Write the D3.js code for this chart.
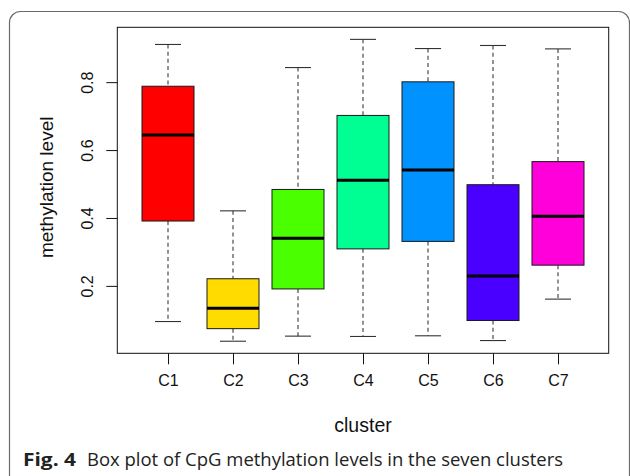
<!DOCTYPE html>
<html>
<head>
<meta charset="utf-8">
<script src="https://cdn.jsdelivr.net/npm/d3@7"></script>
<style>
  html, body { margin: 0; padding: 0; background: #fff; }
  svg { display: block; }
</style>
</head>
<body>
<svg id="chart" width="630" height="476"></svg>
<script>
// Box-plot summaries of CpG methylation level per cluster
const categories   = ["C1", "C2", "C3", "C4", "C5", "C6", "C7"];
const lowerWhisker = [0.095, 0.037, 0.052, 0.051, 0.053, 0.039, 0.161];
const q1           = [0.391, 0.074, 0.191, 0.309, 0.331, 0.098, 0.261];
const median       = [0.644, 0.134, 0.340, 0.511, 0.541, 0.229, 0.405];
const q3           = [0.788, 0.221, 0.484, 0.702, 0.801, 0.498, 0.566];
const upperWhisker = [0.911, 0.421, 0.843, 0.926, 0.899, 0.908, 0.898];
const boxColors    = ["#FF0000", "#FFDB00", "#49FF00", "#00FF92", "#0092FF", "#4900FF", "#FF00DB"];
const yTicks       = [0.2, 0.4, 0.6, 0.8];

const svg = d3.select("#chart");

// Figure frame
svg.append("rect")
  .attr("x", 9.5).attr("y", 11.5)
  .attr("width", 620).attr("height", 490)
  .attr("rx", 11).attr("ry", 11)
  .attr("fill", "none")
  .attr("stroke", "#6a6a6a")
  .attr("stroke-width", 1.2);

// Plot region
const plot = { left: 117.3, right: 608.7, top: 27.3, bottom: 353.3 };

// Axis ranges extended by 4% on each side
const n = categories.length;
const x = d3.scaleLinear()
  .domain([0.5 - n * 0.04, n + 0.5 + n * 0.04])
  .range([plot.left, plot.right]);

const yMin = d3.min(lowerWhisker), yMax = d3.max(upperWhisker);
const yExt = (yMax - yMin) * 0.04;
const y = d3.scaleLinear()
  .domain([yMin - yExt, yMax + yExt])
  .range([plot.bottom, plot.top]);

const boxW = x(1.4) - x(1);   // half box width (0.8 total)
const capW = x(1.2) - x(1);   // half whisker cap width (0.4 total)

const g = svg.append("g");

categories.forEach((c, i) => {
  const cx = x(i + 1);
  const grp = g.append("g");
  // whiskers (dashed)
  grp.append("line")
    .attr("x1", cx).attr("x2", cx)
    .attr("y1", y(upperWhisker[i])).attr("y2", y(q3[i]))
    .attr("stroke", "#3a3a3a").attr("stroke-width", 1.1)
    .attr("stroke-dasharray", "4,3.2");
  grp.append("line")
    .attr("x1", cx).attr("x2", cx)
    .attr("y1", y(q1[i])).attr("y2", y(lowerWhisker[i]))
    .attr("stroke", "#3a3a3a").attr("stroke-width", 1.1)
    .attr("stroke-dasharray", "4,3.2");
  // whisker caps
  [upperWhisker[i], lowerWhisker[i]].forEach(v => {
    grp.append("line")
      .attr("x1", cx - capW).attr("x2", cx + capW)
      .attr("y1", y(v)).attr("y2", y(v))
      .attr("stroke", "#333").attr("stroke-width", 1.1);
  });
  // box
  grp.append("rect")
    .attr("x", cx - boxW).attr("width", 2 * boxW)
    .attr("y", y(q3[i])).attr("height", y(q1[i]) - y(q3[i]))
    .attr("fill", boxColors[i])
    .attr("stroke", "#1a1a1a").attr("stroke-width", 1);
  // median
  grp.append("line")
    .attr("x1", cx - boxW).attr("x2", cx + boxW)
    .attr("y1", y(median[i])).attr("y2", y(median[i]))
    .attr("stroke", "#000").attr("stroke-width", 3);
});

// Plot border
svg.append("rect")
  .attr("x", plot.left).attr("y", plot.top)
  .attr("width", plot.right - plot.left).attr("height", plot.bottom - plot.top)
  .attr("fill", "none").attr("stroke", "#111").attr("stroke-width", 1);

const font = "'Liberation Sans', Arial, sans-serif";

// Y axis
const yAxis = d3.axisLeft(y).tickValues(yTicks).tickSize(11).tickPadding(0).tickFormat(d3.format(".1f"));
const yg = svg.append("g").attr("transform", `translate(${plot.left},0)`).call(yAxis);
yg.select(".domain").remove();
yg.selectAll(".tick line").attr("stroke", "#111");
yg.selectAll(".tick text")
  .attr("x", 0).attr("y", 0).attr("dy", null)
  .attr("transform", "translate(-24,0) rotate(-90)")
  .attr("text-anchor", "middle")
  .style("font-family", font).style("font-size", "16px").attr("fill", "#111");

// X axis
const xAxis = d3.axisBottom(x).tickValues(d3.range(1, n + 1)).tickSize(11).tickPadding(0)
  .tickFormat(d => categories[d - 1]);
const xg = svg.append("g").attr("transform", `translate(0,${plot.bottom})`).call(xAxis);
xg.select(".domain").remove();
xg.selectAll(".tick line").attr("stroke", "#111");
xg.selectAll(".tick text")
  .attr("y", 33).attr("dy", null)
  .style("font-family", font).style("font-size", "16px").attr("fill", "#111");

// Axis titles
svg.append("text")
  .attr("transform", `translate(53,${(plot.top + plot.bottom) / 2 - 3}) rotate(-90)`)
  .attr("text-anchor", "middle")
  .style("font-family", font).style("font-size", "19px").attr("fill", "#111")
  .text("methylation level");

svg.append("text")
  .attr("x", (plot.left + plot.right) / 2).attr("y", 432)
  .attr("text-anchor", "middle")
  .style("font-family", font).style("font-size", "19.5px").attr("fill", "#111")
  .text("cluster");

// Caption
const cap = svg.append("text")
  .attr("x", 23).attr("y", 466)
  .style("font-family", "'Open Sans', sans-serif").style("font-size", "18px").attr("fill", "#222");
cap.append("tspan").style("font-weight", "bold")
  .attr("textLength", 53).attr("lengthAdjust", "spacingAndGlyphs")
  .text("Fig. 4");
cap.append("tspan").attr("x", 87)
  .attr("textLength", 476).attr("lengthAdjust", "spacingAndGlyphs")
  .text("Box plot of CpG methylation levels in the seven clusters");
</script>
</body>
</html>
